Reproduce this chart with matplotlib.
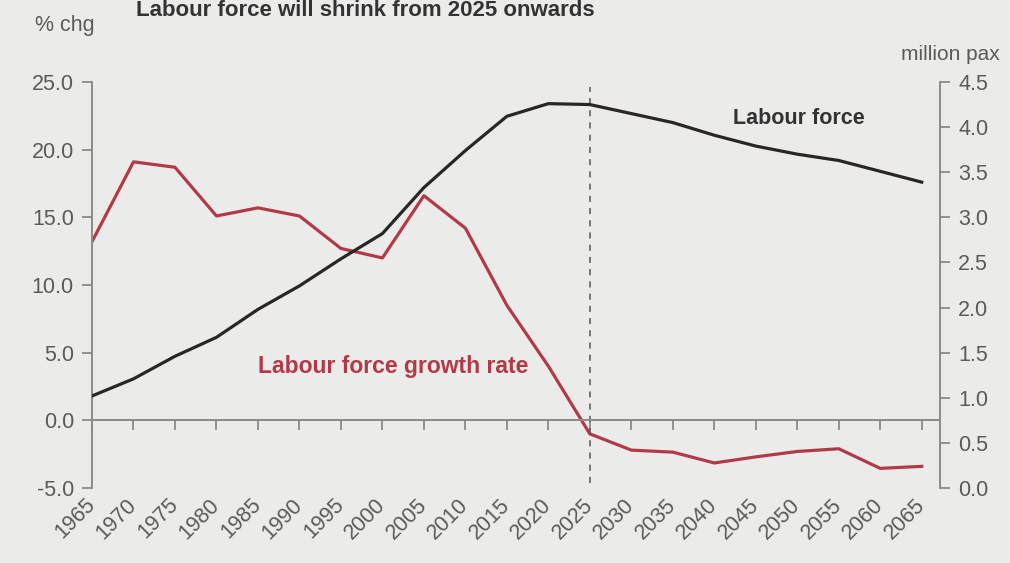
import matplotlib
matplotlib.use("Agg")
import matplotlib.pyplot as plt
import numpy as np

plt.rcParams['font.family'] = ['Liberation Sans', 'DejaVu Sans']

years = list(range(1965, 2070, 5))
growth_rate = [13.2, 19.1, 18.7, 15.1, 15.7, 15.1, 12.7, 12.0, 16.6, 14.2, 8.5, 4.0,
               -1.0, -2.2, -2.35, -3.15, -2.7, -2.3, -2.1, -3.55, -3.4]
labour_force = [1.02, 1.21, 1.46, 1.67, 1.98, 2.24, 2.54, 2.82, 3.33, 3.74, 4.12, 4.26,
                4.25, 4.15, 4.05, 3.91, 3.79, 3.70, 3.63, 3.51, 3.39]
year_labels = [str(y) for y in years]
left_ticks = [-5, 0, 5, 10, 15, 20, 25]
right_ticks = [0, 0.5, 1.0, 1.5, 2.0, 2.5, 3.0, 3.5, 4.0, 4.5]

bg = '#ebecea'
red = '#b23a48'
dark = '#2b2626'
grey = '#8a8a8a'
txt = '#5a5a5a'

W, H = 1010, 563
top_px, bot_px = 82, 488
fig = plt.figure(figsize=(W / 100, H / 100), dpi=100, facecolor=bg)
ax = fig.add_axes([92 / W, 1 - bot_px / H, (940 - 92) / W, (bot_px - top_px) / H])
ax.set_facecolor(bg)
ax2 = ax.twinx()

ax.plot(years, growth_rate, color=red, lw=2.3)
ax2.plot(years, labour_force, color=dark, lw=2.3)
ax.vlines(2025, -4.6, 24.6, colors='#555555', linestyles=(0, (4, 4)), lw=1.1)

ax.set_xlim(1965, 2067.2)
ax.set_ylim(-5, 25)
ax2.set_ylim(0, 4.5)

ax.set_yticks(left_ticks, [f'{v:.1f}' for v in left_ticks])
ax2.set_yticks(right_ticks, [f'{v:.1f}' for v in right_ticks])

for s in ['top', 'right']:
    ax.spines[s].set_visible(False)
for s in ['top', 'left', 'bottom']:
    ax2.spines[s].set_visible(False)
ax.spines['bottom'].set_position(('data', 0))
for sp in [ax.spines['left'], ax.spines['bottom'], ax2.spines['right']]:
    sp.set_color(grey)
    sp.set_linewidth(1.4)

ax.set_xticks(years)
ax.tick_params(axis='x', direction='out', length=7, width=1.3, color=grey, labelbottom=False)
ax.tick_params(axis='y', direction='out', length=7, width=1.3, color=grey,
               labelsize=15.5, labelcolor=txt, pad=6)
ax2.tick_params(axis='y', direction='out', length=7, width=1.3, color=grey,
                labelsize=15.5, labelcolor=txt, pad=6)

sec = ax.secondary_xaxis(0)
sec.set_xticks(years, year_labels)
sec.spines['bottom'].set_visible(False)
sec.tick_params(axis='x', length=0, labelsize=15.5, labelcolor=txt, pad=10)
for lbl in sec.get_xticklabels():
    lbl.set_rotation(45)
    lbl.set_ha('right')
    lbl.set_va('center')
    lbl.set_rotation_mode('anchor')

ax2.text(2042.2, 4.1, 'Labour force', color='#333333', fontsize=15.5,
         fontweight='bold', va='center', ha='left')
ax.text(1985, 4.0, 'Labour force growth rate', color=red, fontsize=16.5,
        fontweight='bold', va='center', ha='left')

fig.text(35 / W, 1 - 25 / H, '% chg', color=txt, fontsize=15.5, va='center', ha='left')
fig.text(1000 / W, 1 - 55 / H, 'million pax', color=txt, fontsize=15, va='center', ha='right')
fig.text(595 / W, 1 - 10 / H, 'Labour force will shrink from 2025 onwards', color='#333333',
         fontsize=16, fontweight='bold', va='center', ha='right')

fig.savefig('out.png', dpi=100, facecolor=bg)
